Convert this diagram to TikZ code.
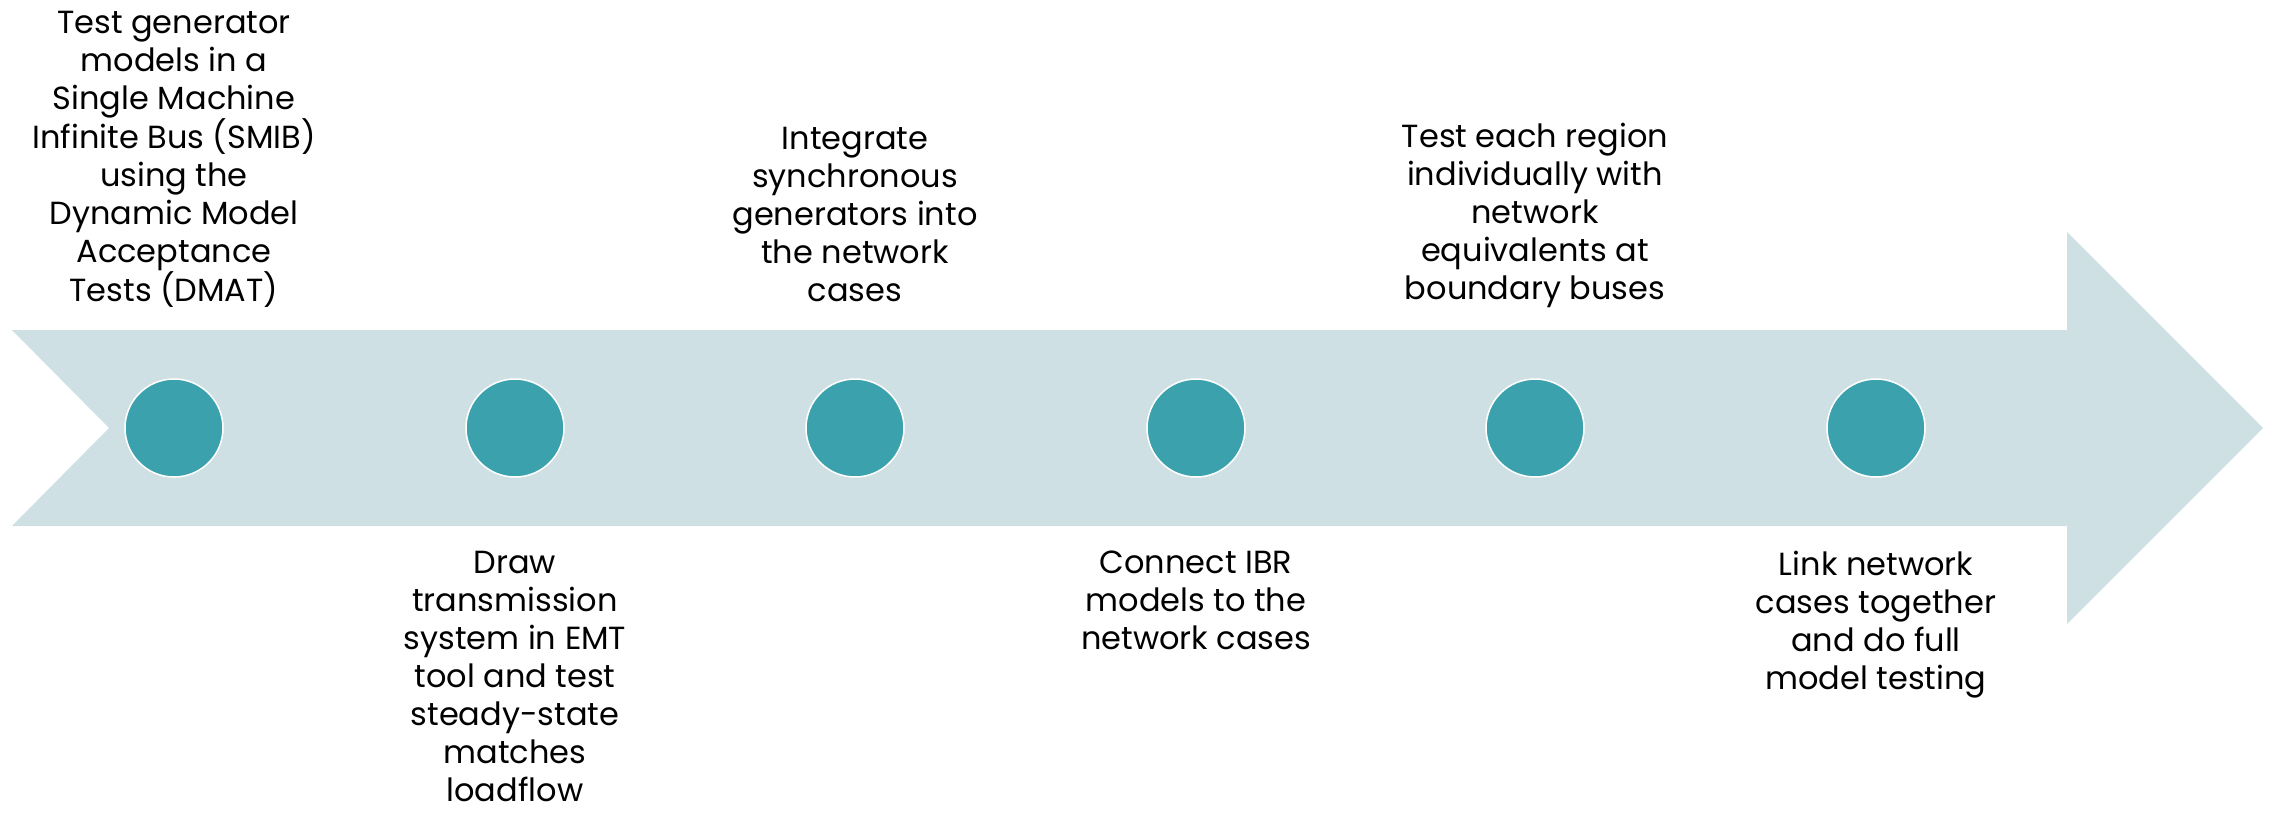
\documentclass[tikz,border=0pt]{standalone}
\usepackage{fontspec}
\setmainfont{Poppins}
\definecolor{bandcol}{HTML}{CFE0E4}
\definecolor{dotcol}{HTML}{3BA2AD}
\begin{document}
\begin{tikzpicture}[x=1pt,y=-1pt,
  dotnode/.style={circle,fill=dotcol,draw=white,line width=1.5pt,minimum size=98pt,inner sep=0pt},
  toptext/.style={anchor=south,align=center,inner sep=0pt,font=\fontsize{32}{38}\selectfont},
  bottext/.style={anchor=north,align=center,inner sep=0pt,font=\fontsize{32}{38}\selectfont}]
\useasboundingbox (0,0) rectangle (2275,812);
\fill[bandcol] (12,330) -- (2067,330) -- (2067,232) -- (2263,428) -- (2067,624) -- (2067,526) -- (12,526) -- (109,428) -- cycle;
\node[dotnode] (c1) at (174,428) {};
\node[dotnode] (c2) at (515,428) {};
\node[dotnode] (c3) at (855,428) {};
\node[dotnode] (c4) at (1196,428) {};
\node[dotnode] (c5) at (1535,428) {};
\node[dotnode] (c6) at (1876,428) {};
\node[toptext] (t1) at (174,308) {Test generator\\models in a\\Single Machine\\Infinite Bus (SMIB)\\using the\\Dynamic Model\\Acceptance\\Tests (DMAT)};
\node[bottext] (t2) at (515,551) {Draw\\transmission\\system in EMT\\tool and test\\steady-state\\matches\\loadflow};
\node[toptext] (t3) at (855,302) {Integrate\\synchronous\\generators into\\the network\\cases};
\node[bottext] (t4) at (1196,551) {Connect IBR\\models to the\\network cases};
\node[toptext] (t5) at (1535,308) {Test each region\\individually with\\network\\equivalents at\\boundary buses};
\node[bottext] (t6) at (1876,551) {Link network\\cases together\\and do full\\model testing};
\end{tikzpicture}
\end{document}
